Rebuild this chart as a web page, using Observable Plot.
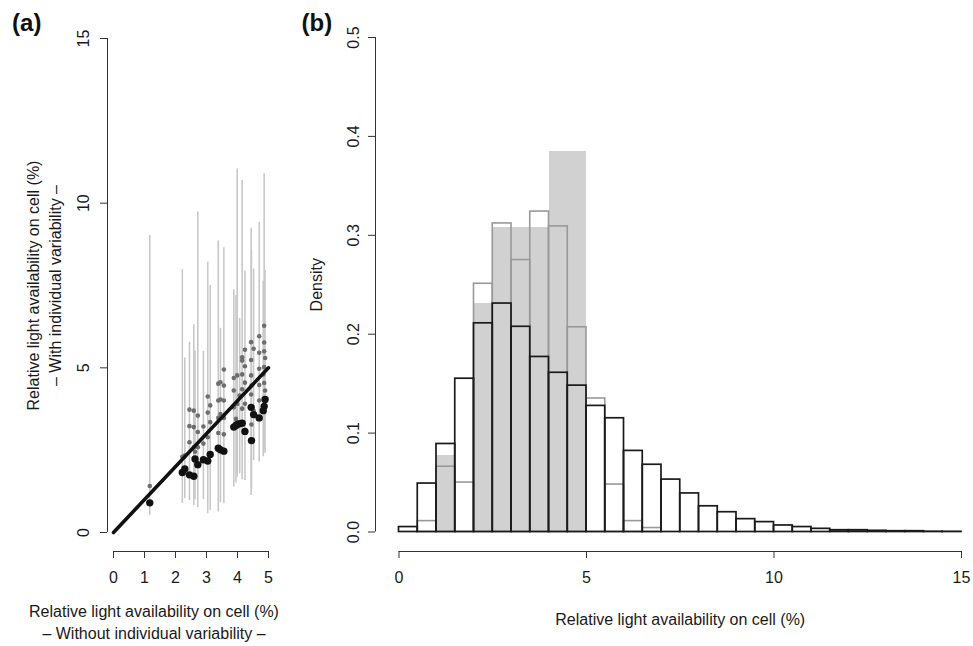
<!DOCTYPE html>
<html><head><meta charset="utf-8">
<script src="https://cdn.jsdelivr.net/npm/d3@7"></script>
<script src="https://cdn.jsdelivr.net/npm/@observablehq/plot@0.6"></script>
<style>
body{margin:0;background:#fff;}
#wrap{position:relative;width:973px;height:646px;overflow:hidden;background:#fff;}
#wrap svg{position:absolute;top:0;}
</style></head><body><div id="wrap"></div>
<script>
// ---------- Panel (a) data ----------
const siteX  = [1.17,2.22,2.30,2.45,2.59,2.63,2.72,2.90,3.04,3.12,3.38,3.45,3.56,3.88,3.95,3.99,4.07,4.15,4.24,4.44,4.45,4.52,4.70,4.83,4.86,4.89];
const siteY  = [0.90,1.82,1.93,1.75,1.71,2.23,2.06,2.21,2.17,2.37,2.56,2.51,2.47,3.20,3.25,3.28,3.30,3.32,3.07,3.80,2.79,3.58,3.48,3.70,3.83,4.04];
const siteLo = [0.52,0.88,1.03,0.97,0.82,1.00,0.75,1.00,0.57,0.67,0.62,0.90,0.87,1.38,1.50,1.68,1.78,1.60,1.58,1.12,1.30,2.19,2.14,2.30,2.49,2.40];
const siteHi = [9.02,7.98,5.30,5.78,6.31,5.50,9.73,5.50,8.21,7.50,8.85,6.20,8.65,7.37,7.20,11.04,6.50,10.69,7.94,9.24,8.58,8.00,9.42,7.63,10.89,7.96];
// individual-variability estimates (gray dots), listed per site
const grayY = [
  [1.41],[2.30],[2.34],[2.74,3.23,3.73],[2.59,3.20,3.70],[2.45],[2.59,3.05,3.55],[2.70,3.22],
  [2.89,3.64,4.13],[3.35,3.86],[3.02,3.48,4.01,4.52],[3.60,4.04,4.56],[2.98,3.48,4.01,4.46,4.95],
  [3.80,4.31,4.69],[3.45],[3.90,4.77],[4.16],[3.76,4.35,4.80,5.22,5.32],[3.91,4.55,5.05,5.55],
  [4.19,4.77,5.24,5.78],[3.28,4.46],[3.70,5.58],[4.01,4.48,4.97,5.46,5.96],[4.80],
  [4.54,5.02,5.50,5.77,6.28],[4.31,5.30]
];
const oneToOne = [0, 5];
const xTicksA = [0,1,2,3,4,5];
const yTicksA = [0,5,10,15];
const xTitleA = ["Relative light availability on cell (%)", "\u2013 Without individual variability \u2013"];
const yTitleA = ["Relative light availability on cell (%)", "\u2013 With individual variability \u2013"];
const panelLabels = ["(a)", "(b)"];

// ---------- Panel (b) data ----------
const binEdges = [0,0.5,1,1.5,2,2.5,3,3.5,4,4.5,5,5.5,6,6.5,7,7.5,8,8.5,9,9.5,10,10.5,11,11.5,12,12.5,13,13.5,14,14.5,15];
const densAll  = [0.005,0.049,0.089,0.155,0.211,0.231,0.2075,0.177,0.161,0.148,0.1275,0.115,0.082,0.068,0.053,0.039,0.026,0.020,0.013,0.010,0.0066,0.005,0.0032,0.0018,0.0018,0.0012,0.0008,0.0008,0.0003,0.0002];
const densIndiv = [0,0.011,0.066,0.050,0.251,0.312,0.275,0.324,0.309,0.207,0.135,0.048,0.011,0.004,0,0,0,0,0,0,0,0,0,0,0,0,0,0,0,0];
const densSites = [0,0,0.0769,0,0.2308,0.3077,0.3077,0.3077,0.3846,0.3846,0,0,0,0,0,0,0,0,0,0,0,0,0,0,0,0,0,0,0,0];
const xTicksB = [0,5,10,15];
const yTicksB = [0,0.1,0.2,0.3,0.4,0.5];
const xTitleB = ["Relative light availability on cell (%)"];
const yTitleB = ["Density"];

// ---------- build tables ----------
const sites = siteX.map((x,i)=>({x, y: siteY[i], lo: siteLo[i], hi: siteHi[i]}));
const grayDots = grayY.flatMap((ys,i)=>ys.map(y=>({x: siteX[i], y})));
const bins = densAll.map((d,i)=>({x1: binEdges[i], x2: binEdges[i+1], all: d, indiv: densIndiv[i], sites: densSites[i]}));

const FONT = '"Liberation Sans", Arial, Helvetica, sans-serif';
const AX = "#333";
const TXT = "#1a1a1a";
const baseStyle = {background: "transparent", fontFamily: FONT, fontSize: "16px", color: TXT, overflow: "visible"};
const fmtB = d3.format(".1f");

const plotA = Plot.plot({
  width: 295, height: 646,
  marginLeft: 113, marginRight: 27, marginTop: 38, marginBottom: 114,
  x: {domain: [0,5]}, y: {domain: [0,15]},
  style: baseStyle,
  marks: [
    Plot.ruleX(sites, {x: "x", y1: "lo", y2: "hi", stroke: "#c8c8c8", strokeWidth: 1.6}),
    Plot.dot(grayDots, {x: "x", y: "y", r: 2.3, fill: "#6e6e6e"}),
    Plot.line(oneToOne, {x: d=>d, y: d=>d, stroke: "#111", strokeWidth: 3.6}),
    Plot.dot(sites, {x: "x", y: "y", r: 3.7, fill: "#111"}),
    Plot.ruleY([0], {x1: 0, x2: 5, dy: 19, stroke: AX}),
    Plot.axisX(xTicksA, {tickSize: 7, tickPadding: 13, dy: 19, label: null, stroke: AX, fill: TXT, fontSize: 16}),
    Plot.ruleX([0], {y1: 0, y2: 15, dx: -6, stroke: AX}),
    Plot.axisY(yTicksA, {tickSize: 7, dx: -6, label: null, stroke: AX, fill: "none"}),
    Plot.text(yTicksA, {y: d=>d, text: d=>String(d), frameAnchor: "left", textAnchor: "middle", lineAnchor: "middle", rotate: -90, dx: -30, fontSize: 16, fill: TXT}),
    Plot.text([xTitleA[0]], {text: d=>d, frameAnchor: "bottom", dx: -37, dy: 84, fontSize: 16, fill: TXT}),
    Plot.text([xTitleA[1]], {text: d=>d, frameAnchor: "bottom", dx: -37, dy: 106, fontSize: 16, fill: TXT}),
    Plot.text([yTitleA[0]], {text: d=>d, frameAnchor: "left", textAnchor: "middle", lineAnchor: "middle", rotate: -90, dx: -80, fontSize: 16, fill: TXT}),
    Plot.text([yTitleA[1]], {text: d=>d, frameAnchor: "left", textAnchor: "middle", lineAnchor: "middle", rotate: -90, dx: -58, fontSize: 16, fill: TXT}),
    Plot.text([panelLabels[0]], {text: d=>d, frameAnchor: "top-left", textAnchor: "start", lineAnchor: "middle", dx: -101.4, dy: -14.7, fontSize: 24, fontWeight: "bold", fill: "#111"})
  ]
});

const plotB = Plot.plot({
  width: 678, height: 646,
  marginLeft: 103.5, marginRight: 12, marginTop: 37, marginBottom: 114.5,
  x: {domain: [0,15]}, y: {domain: [0,0.5]},
  style: baseStyle,
  marks: [
    Plot.rectY(bins.filter(d=>d.sites>0), {x1: "x1", x2: "x2", y: "sites", fill: "#d0d1d0", shapeRendering: "crispEdges"}),
    Plot.rectY(bins.filter(d=>d.indiv>0), {x1: "x1", x2: "x2", y: "indiv", fill: "none", stroke: "#999", strokeWidth: 1.6}),
    Plot.rectY(bins, {x1: "x1", x2: "x2", y: "all", fill: "none", stroke: "#1a1a1a", strokeWidth: 1.7}),
    Plot.ruleY([0], {x1: 0, x2: 15, dy: 19.5, stroke: AX}),
    Plot.axisX(xTicksB, {tickSize: 7, tickPadding: 13, dy: 19.5, label: null, stroke: AX, fill: TXT, fontSize: 16}),
    Plot.ruleX([0], {y1: 0, y2: 0.5, dx: -23.5, stroke: AX}),
    Plot.axisY(yTicksB, {tickSize: 7, dx: -23.5, label: null, stroke: AX, fill: "none"}),
    Plot.text(yTicksB, {y: d=>d, text: d=>fmtB(d), frameAnchor: "left", textAnchor: "middle", lineAnchor: "middle", rotate: -90, dx: -45.5, fontSize: 16, fill: TXT}),
    Plot.text(xTitleB, {text: d=>d, frameAnchor: "bottom", dy: 93, fontSize: 16, fill: TXT}),
    Plot.text(yTitleB, {text: d=>d, frameAnchor: "left", textAnchor: "middle", lineAnchor: "middle", rotate: -90, dx: -82.5, fontSize: 16, fill: TXT}),
    Plot.text([panelLabels[1]], {text: d=>d, frameAnchor: "top-left", textAnchor: "start", lineAnchor: "middle", dx: -97.5, dy: -13.7, fontSize: 24, fontWeight: "bold", fill: "#111"})
  ]
});

const wrap = document.getElementById("wrap");
plotA.style.left = "0px";
plotB.style.left = "295px";
wrap.appendChild(plotA);
wrap.appendChild(plotB);
</script></body></html>
